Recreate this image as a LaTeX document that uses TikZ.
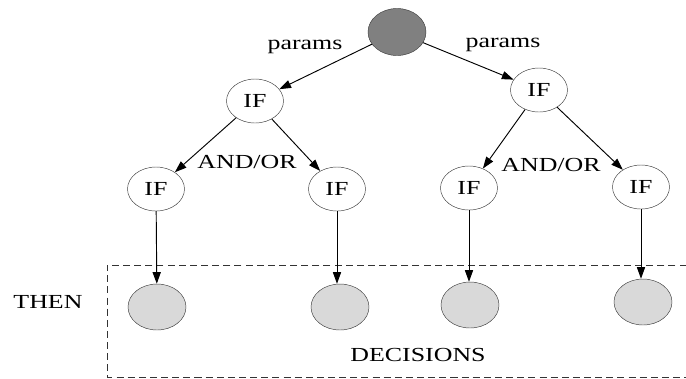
\documentclass[tikz,border=0pt]{standalone}
\usepackage{fontspec}
\setmainfont{Liberation Serif}[FakeStretch=1.3]
\usepackage{tikz}
\usetikzlibrary{arrows.meta}
\usetikzlibrary{shapes.geometric}

\tikzset{
  ifnode/.style={ellipse, draw=black!75, fill=white, inner sep=0pt,
    minimum width=1.71cm, minimum height=1.32cm},
  rootnode/.style={ellipse, draw=black!75, fill=black!50, inner sep=0pt,
    minimum width=1.74cm, minimum height=1.41cm},
  decnode/.style={ellipse, draw=black!75, fill=black!15, inner sep=0pt,
    minimum width=1.74cm, minimum height=1.38cm},
  edge/.style={-{Triangle[length=10pt,width=7pt]}, line width=0.8pt}
}

\begin{document}
\begin{tikzpicture}[x=0.03cm, y=-0.03cm, font=\fontsize{17}{20}\selectfont]
\useasboundingbox (0,0) rectangle (686,378);
\coordinate (r) at (397,32);
\coordinate (l) at (255,101);
\coordinate (rr) at (539,90);
\coordinate (ll1) at (156,189);
\coordinate (ll2) at (337,189);
\coordinate (rl1) at (469,188);
\coordinate (rl2) at (641,187);
% decisions box
\draw[dashed, dash pattern=on 6pt off 3.5pt, line width=0.6pt, black!80]
  (720,265) -- (107,265) -- (107,377) -- (720,377);
\begin{scope}
% draws vertices
\node[rootnode] (root) at (r){};
\node[ifnode] (ifL) at (l){IF};
\node[ifnode] (ifR) at (rr){IF};
\node[ifnode] (ifLL) at (ll1){IF};
\node[ifnode] (ifLR) at (ll2){IF};
\node[ifnode] (ifRL) at (rl1){IF};
\node[ifnode] (ifRR) at (rl2){IF};
\node[decnode] (decLL) at (157,307){};
\node[decnode] (decLR) at (340,307){};
\node[decnode] (decRL) at (470,305){};
\node[decnode] (decRR) at (643,302){};
% labels
\node (parL) at (305,47) {params};
\node (parR) at (503,45) {params};
\node (andL) at (247,162) {AND/OR};
\node (andR) at (551,165) {AND/OR};
\node (then) at (48,302) {THEN};
\node (dec) at (418,355) {DECISIONS};
% draws edges
\draw[edge] (root) to (ifL);
\draw[edge] (root) to (ifR);
\draw[edge] (ifL) to (ifLL);
\draw[edge] (ifL) to (ifLR);
\draw[edge] (ifR) to (ifRL);
\draw[edge] (ifR) to (ifRR);
\draw[edge] (ifLL) to (decLL);
\draw[edge] (ifLR) to (ifLR |- decLR.north);
\draw[edge] (ifRL) to (ifRL |- decRL.north);
\draw[edge] (ifRR) to (ifRR |- decRR.north);
\end{scope}
\end{tikzpicture}
\end{document}
